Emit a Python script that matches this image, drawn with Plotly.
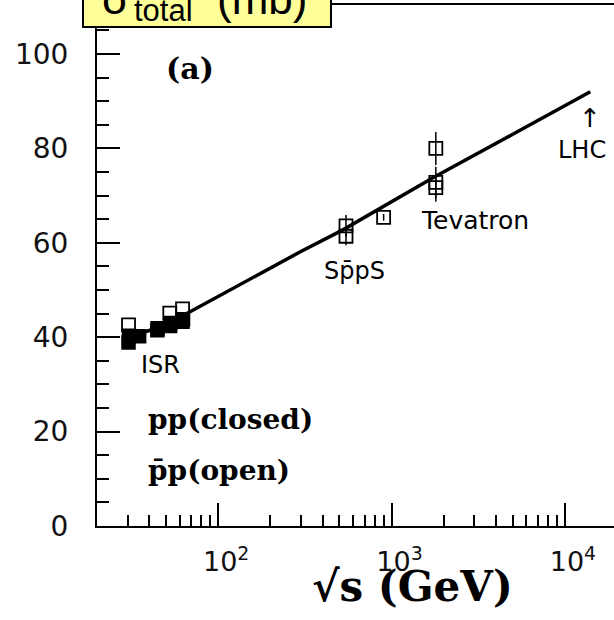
import math
import plotly.graph_objects as go

# ---------------- data ----------------
# pp (closed squares) at the ISR
pp_sqrt_s = [30.4, 30.6, 35.0, 44.6, 44.7, 52.8, 53.0, 62.3, 62.7]
pp_sigma = [38.9, 40.3, 40.2, 41.5, 41.9, 42.4, 43.0, 43.3, 43.8]

# pbar-p (open squares): ISR, SppS, UA5, Tevatron
ppbar_sqrt_s = [30.4, 52.6, 62.3, 546, 546, 900, 1800, 1800, 1800]
ppbar_sigma = [42.6, 45.1, 46.0, 63.6, 61.4, 65.4, 80.0, 72.8, 71.7]
ppbar_err = [0, 0, 0, 2.3, 1.9, 0.7, 3.5, 3.3, 3.0]

# fitted curve
fit_sqrt_s = [30, 45, 68, 132, 294, 521, 1000, 1775, 5000, 14000]
fit_sigma = [40.0, 42.0, 45.3, 51.0, 58.0, 62.7, 68.8, 74.0, 83.0, 92.0]

# axis ticks
x_major = [100, 1000, 10000]
x_major_text = ["10<sup>2</sup>", "10<sup>3</sup>", "10<sup>4</sup>"]
x_minor = [30, 40, 50, 60, 70, 80, 90,
           200, 300, 400, 500, 600, 700, 800, 900,
           2000, 3000, 4000, 5000, 6000, 7000, 8000, 9000]
y_major = [0, 20, 40, 60, 80, 100]
y_major_text = ["0", "20", "40", "60", "80", "100"]

# labels (text, sqrt_s, sigma, font size)
label_isr = ("ISR", 46.3, 34.1, 24)
label_sps = ("Sp̄pS", 615, 54.0, 24)
label_tev = ("Tevatron", 3027, 64.8, 25)
label_lhc = ("LHC", 12540, 79.6, 24)
lhc_arrow = ("↑", 14000, 86.4, 26)
isr_pointer = (62.3, [37.3, 43.5])

x_range = [math.log10(20), 4.283]
y_range = [0, 110.4]

# ---------------- figure ----------------
fig = go.Figure()

fig.add_trace(go.Scatter(
    x=pp_sqrt_s, y=pp_sigma, mode="markers",
    marker=dict(symbol="square", size=13, color="black",
                line=dict(color="black", width=1.5)),
    showlegend=False))

fig.add_trace(go.Scatter(
    x=ppbar_sqrt_s, y=ppbar_sigma, mode="markers",
    marker=dict(symbol="square-open", size=13, color="black",
                line=dict(color="black", width=1.8)),
    error_y=dict(type="data", array=ppbar_err, visible=True,
                 color="black", thickness=1.5, width=0),
    showlegend=False))

fig.add_trace(go.Scatter(
    x=fit_sqrt_s, y=fit_sigma, mode="lines",
    line=dict(color="black", width=3.5),
    showlegend=False))

tickfont = dict(family="DejaVu Sans", size=28, color="#111111")

fig.update_xaxes(
    type="log", range=x_range,
    showline=True, linecolor="black", linewidth=2, mirror=True,
    ticks="inside", ticklen=23, tickwidth=1.5, tickcolor="black",
    tickmode="array", tickvals=x_major, ticktext=x_major_text,
    tickfont=dict(tickfont, size=27), ticklabelstandoff=11, ticklabelshift=8,
    minor=dict(ticks="inside", ticklen=11, tickwidth=1.5, tickcolor="black",
               tickmode="array", tickvals=x_minor, showgrid=False),
    showgrid=False, zeroline=False)

fig.update_yaxes(
    range=y_range,
    showline=True, linecolor="black", linewidth=2, mirror=False,
    ticks="inside", ticklen=23, tickwidth=1.5, tickcolor="black",
    tickmode="array", tickvals=y_major, ticktext=y_major_text,
    tickfont=tickfont, ticklabelstandoff=21,
    minor=dict(ticks="inside", ticklen=12, tickwidth=1.5, tickcolor="black",
               dtick=5, showgrid=False),
    showgrid=False, zeroline=False)

L, R, T, B = 97, 0, 5, 94
W, H = 614, 620
pw, ph = W - L - R, H - T - B


def px(xp):
    return (xp - L) / pw


def py(yp):
    return (H - B - yp) / ph


annotations = []

# data-point labels and LHC arrow
for txt, xv, yv, fs in (label_isr, label_sps, label_tev, label_lhc, lhc_arrow):
    annotations.append(dict(x=math.log10(xv), y=yv, xref="x", yref="y",
                            text=txt, showarrow=False,
                            font=dict(family="DejaVu Sans", size=fs, color="black"),
                            xanchor="center", yanchor="middle"))

serif_b = dict(family="DejaVu Serif", size=28, color="black", weight="bold")
annotations.append(dict(x=px(190), y=py(68), xref="paper", yref="paper",
                        text="(a)", showarrow=False, font=dict(serif_b, size=30),
                        xanchor="center", yanchor="middle"))
annotations.append(dict(x=px(146), y=py(419), xref="paper", yref="paper",
                        text="pp(closed)", showarrow=False, font=serif_b,
                        xanchor="left", yanchor="middle"))
annotations.append(dict(x=px(146), y=py(470), xref="paper", yref="paper",
                        text="p̄p(open)", showarrow=False, font=serif_b,
                        xanchor="left", yanchor="middle"))

# x-axis title
annotations.append(dict(x=px(412), y=py(586), xref="paper", yref="paper",
                        text="√s (GeV)", showarrow=False,
                        font=dict(family="DejaVu Serif", size=42, color="black",
                                  weight="bold"),
                        xanchor="center", yanchor="middle"))

# y title in yellow box (cut off at the top of the page)
sans_t = dict(family="Liberation Sans, Arial", color="black")
annotations.append(dict(x=px(100), y=py(-2), xref="paper", yref="paper",
                        text="σ", showarrow=False, font=dict(sans_t, size=44),
                        xanchor="left", yanchor="middle"))
annotations.append(dict(x=px(132), y=py(10), xref="paper", yref="paper",
                        text="total", showarrow=False, font=dict(sans_t, size=31),
                        xanchor="left", yanchor="middle"))
annotations.append(dict(x=px(215), y=py(-2), xref="paper", yref="paper",
                        text="(mb)", showarrow=False, font=dict(sans_t, size=44),
                        xanchor="left", yanchor="middle"))

shapes = [
    dict(type="rect", xref="paper", yref="paper",
         x0=px(83), x1=px(331), y0=py(27), y1=py(-20),
         fillcolor="#FFFF99", line=dict(color="black", width=2), layer="above"),
    dict(type="line", xref="x", yref="y",
         x0=math.log10(isr_pointer[0]), x1=math.log10(isr_pointer[0]),
         y0=isr_pointer[1][0], y1=isr_pointer[1][1],
         line=dict(color="black", width=1.5)),
]

fig.update_layout(
    width=W, height=H,
    margin=dict(l=L, r=R, t=T, b=B, pad=0),
    paper_bgcolor="white", plot_bgcolor="white",
    annotations=annotations, shapes=shapes,
    showlegend=False)

fig.write_html("out.html")
